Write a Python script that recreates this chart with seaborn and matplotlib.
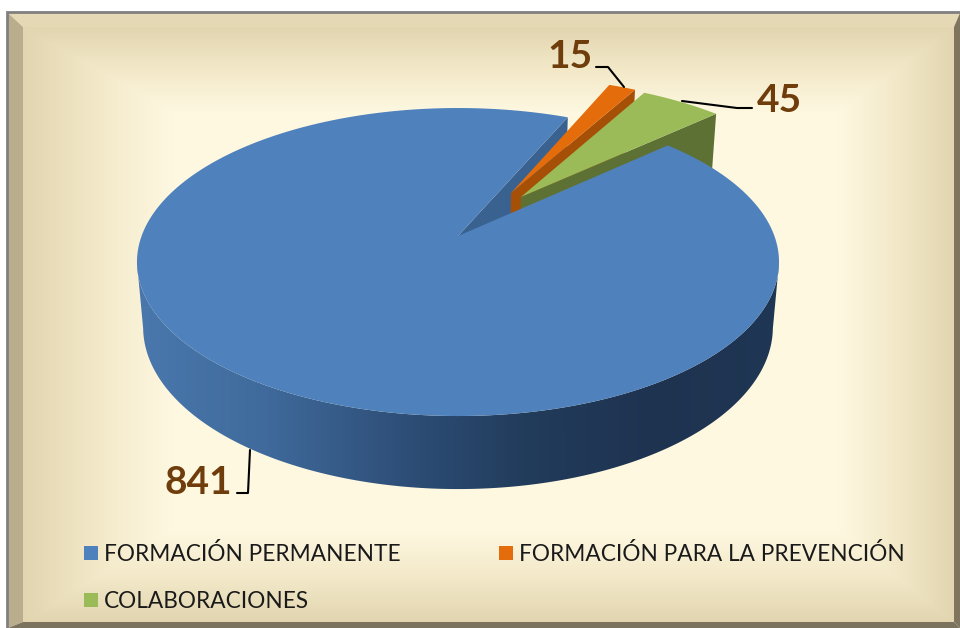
import numpy as np
import seaborn as sns
import matplotlib.pyplot as plt
from matplotlib.patches import Patch, Polygon

# data
categories = ['FORMACIÓN PERMANENTE', 'FORMACIÓN PARA LA PREVENCIÓN', 'COLABORACIONES']
values = [841, 15, 45]
value_labels = ['841', '15', '45']

# look
top_colors = ['#4f81bd', '#e46c0a', '#9bbb59']
side_colors = ['#3a6291', '#a64f07', '#5e7135']
offsets = [(0.0, 0.0), (0.176, 0.302), (0.208, 0.273)]
first_angle = 42.4

sns.set_theme(style='white')
plt.rcParams['font.family'] = ['Lato', 'DejaVu Sans']
palette = sns.color_palette(top_colors)


def project(u, v, z=0.0):
    # perspective view of the pie: z=0 top face, z=1 bottom face
    w = 1 + 0.169 * v + 0.019 * z
    return np.column_stack([458 + 316.4 * u / w, 236 - (149.6 * v - 65.5 * z) / w])


def rim(a0, a1, off=(0, 0), z=0.0, n=300):
    t = np.radians(np.linspace(a0, a1, n))
    return project(off[0] + np.cos(t), off[1] + np.sin(t), z)


def apex(off=(0, 0), z=0.0):
    return project(np.array([off[0]]), np.array([off[1]]), z)


fig = plt.figure(figsize=(9.6, 6.28), dpi=100, facecolor='white')
ax = fig.add_axes([0, 0, 1, 1])

# panel background
xx, yy = np.meshgrid(np.arange(23, 954), np.arange(27, 623))
fade = np.minimum.reduce([(xx - 23) / 150, (953 - xx) / 115, (yy - 27) / 85, (622 - yy) / 92]).clip(0, 1)
panel_cmap = sns.blend_palette(['#e2d5b0', '#f3e9c9', '#fef8e1'], as_cmap=True)
ax.imshow(fade, cmap=panel_cmap, extent=(23, 954, 623, 27), aspect='auto', vmin=0, vmax=1, zorder=0)
ax.add_patch(Polygon([(8, 13), (960, 13), (954, 27), (23, 27)], color='#e5d8b4', lw=0, zorder=1))
ax.add_patch(Polygon([(8, 13), (23, 27), (23, 622), (8, 628)], color='#b9ad8d', lw=0, zorder=1))
ax.add_patch(Polygon([(954, 27), (960, 13), (960, 628), (954, 622)], color='#7f755f', lw=0, zorder=1))
ax.add_patch(Polygon([(23, 622), (954, 622), (960, 628), (8, 628)], color='#7c735e', lw=0, zorder=1))
ax.plot([7, 7, 960], [628, 12, 12], color='#808080', lw=2, zorder=2, solid_joinstyle='miter')

# slice angles, clockwise from the first angle
sweeps = np.array(values) / sum(values) * 360
ends = first_angle - np.cumsum(sweeps)
starts = ends + sweeps

# wall of the notch left in the big slice
notch_end = ends[0] + 360
ax.add_patch(Polygon(np.vstack([apex(), rim(notch_end, notch_end, n=1), rim(notch_end, notch_end, z=1, n=1), apex(z=1)]),
                     color=side_colors[0], lw=0, zorder=3))

# pulled out slices, the visible wall is the clockwise edge
for i in [1, 2]:
    off = offsets[i]
    wall = np.vstack([apex(off), rim(ends[i], ends[i], off, n=1), rim(ends[i], ends[i], off, z=1, n=1), apex(off, z=1)])
    ax.add_patch(Polygon(wall, color=side_colors[i], lw=0, zorder=3 + i))
    face = np.vstack([apex(off), rim(starts[i], ends[i], off)])
    ax.add_patch(Polygon(face, color=palette[i], lw=0, zorder=3 + i))

# cylinder wall of the big slice with its shading
outer = np.vstack([rim(-170, -10), rim(-10, -170, z=1)])
wall_patch = Polygon(outer, facecolor='none', lw=0, zorder=6)
ax.add_patch(wall_patch)
wall_cmap = sns.blend_palette(['#4a78ad', '#3f6a9b', '#2f507a', '#223c5c', '#1e3350', '#1f3654'], as_cmap=True)
im = ax.imshow(np.linspace(0, 1, 650).reshape(1, -1), cmap=wall_cmap, extent=(137, 780, 500, 100), aspect='auto', zorder=6)
im.set_clip_path(wall_patch)

# top face of the big slice
ax.add_patch(Polygon(np.vstack([apex(), rim(starts[0], ends[0], n=800)]), color=palette[0], lw=0, zorder=7))

# value labels and leader lines
label_pos = [(198, 483), (570, 57), (779, 100)]
leaders = [[(250, 450), (248, 493), (237, 493)],
           [(596, 67), (608, 67), (624, 87)],
           [(682, 101), (737, 108), (752, 108)]]
for txt, pos, line in zip(value_labels, label_pos, leaders):
    ax.text(pos[0], pos[1], txt, color='#6f3d0c', fontsize=28, fontweight='bold', ha='center', va='center', zorder=9)
    lx, ly = zip(*line)
    ax.plot(lx, ly, color='black', lw=1.5, zorder=8)

# legend fills column by column
handles = [Patch(color=palette[i], lw=0, label=categories[i]) for i in [0, 2, 1]]
ax.legend(handles=handles, ncols=2, loc='upper left', bbox_to_anchor=(84, 543), bbox_transform=ax.transData,
          frameon=False, fontsize=16.3, labelcolor='#1a1a1a', borderpad=0, borderaxespad=0,
          handlelength=0.62, handleheight=0.62, handletextpad=0.26, columnspacing=4.35, labelspacing=1.15)

ax.set_xlim(0, 960)
ax.set_ylim(628, 0)
ax.axis('off')
fig.savefig('out.png', dpi=100, facecolor='white')
